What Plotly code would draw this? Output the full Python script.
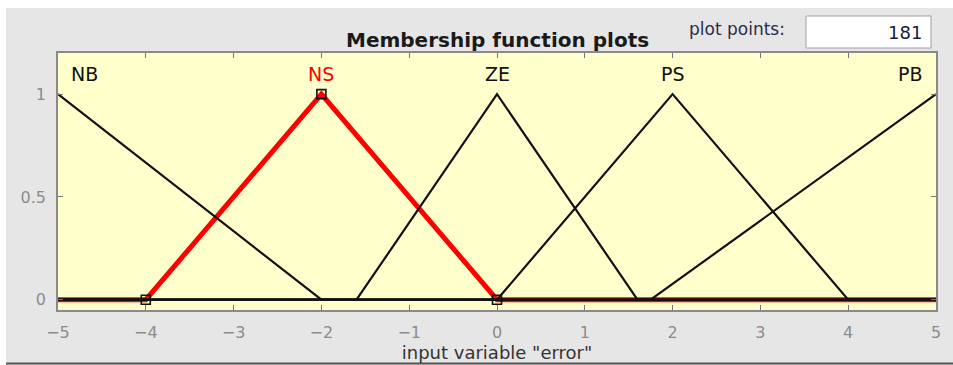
import plotly.graph_objects as go

# Membership function vertices (x, y)
mf_names = ["NB", "NS", "ZE", "PS", "PB"]
nb_x = [-5, -2, 5]
nb_y = [1, 0, 0]
ns_x = [-5, -4, -2, 0, 5]
ns_y = [0, 0, 1, 0, 0]
ze_x = [-5, -1.6, 0, 1.6, 5]
ze_y = [0, 0, 1, 0, 0]
ps_x = [-5, 0, 2, 4, 5]
ps_y = [0, 0, 1, 0, 0]
pb_x = [-5, 1.75, 5]
pb_y = [0, 0, 1]
ns_vert_x = [-4, -2, 0]
ns_vert_y = [0, 1, 0]
label_x = [-4.88, -2, 0, 2, 4.88]
label_y = [1.1, 1.1, 1.1, 1.1, 1.1]
x_ticks = [-5, -4, -3, -2, -1, 0, 1, 2, 3, 4, 5]
y_ticks = [0, 0.5, 1]
y_tick_text = ["0", "0.5", "1"]
plot_points = "181"

FONT = "DejaVu Sans, Liberation Sans, Arial"
W, H = 953, 365
L, R, T, B = 58, 17, 53, 55
pw, ph = W - L - R, H - T - B

def px(x):
    return (x - L) / pw

def py(y):
    return 1 - (y - T) / ph

fig = go.Figure()

# selected MF (red, thick) first
fig.add_trace(go.Scatter(x=ns_x, y=ns_y, mode="lines",
                         line=dict(color="#ff0000", width=5), hoverinfo="skip"))
for xs, ys in [(nb_x, nb_y), (ze_x, ze_y), (ps_x, ps_y), (pb_x, pb_y)]:
    fig.add_trace(go.Scatter(x=xs, y=ys, mode="lines",
                             line=dict(color="#111111", width=2.2), hoverinfo="skip"))
fig.add_trace(go.Scatter(x=ns_vert_x, y=ns_vert_y, mode="markers",
                         marker=dict(symbol="square-open", size=9, color="#111111",
                                     line=dict(width=1.6, color="#111111")),
                         hoverinfo="skip"))

# MF labels
for i, name in enumerate(mf_names):
    anchor = "center"
    if i == 0:
        anchor = "left"
    elif i == len(mf_names) - 1:
        anchor = "right"
    fig.add_annotation(x=label_x[i], y=label_y[i], text=name, showarrow=False,
                       xanchor=anchor, yanchor="middle",
                       font=dict(family=FONT, size=19,
                                 color="#ff0000" if name == "NS" else "#111111"))

# white outer strips
fig.add_shape(type="rect", xref="paper", yref="paper", x0=px(0), x1=px(W), y0=py(0), y1=py(8),
              fillcolor="white", line=dict(width=0), layer="above")
fig.add_shape(type="rect", xref="paper", yref="paper", x0=px(0), x1=px(6), y0=py(0), y1=py(H),
              fillcolor="white", line=dict(width=0), layer="above")
fig.add_shape(type="line", xref="paper", yref="paper", x0=px(6), x1=px(W), y0=py(363.5), y1=py(363.5),
              line=dict(color="#555555", width=2), layer="above")

# title
fig.add_annotation(xref="paper", yref="paper", x=px(497), y=py(40), text="<b>Membership function plots</b>",
                   showarrow=False, xanchor="center", yanchor="middle",
                   font=dict(family=FONT, size=20, color="#1a1a1a"))
# plot points label and box
fig.add_annotation(xref="paper", yref="paper", x=px(787), y=py(29), text="plot points:",
                   showarrow=False, xanchor="right", yanchor="middle",
                   font=dict(family=FONT, size=17, color="#2c2c48"))
fig.add_shape(type="rect", xref="paper", yref="paper", x0=px(806), x1=px(931), y0=py(16), y1=py(48),
              fillcolor="white", line=dict(color="#a0a0a0", width=1), layer="above")
fig.add_annotation(xref="paper", yref="paper", x=px(924), y=py(32), text=plot_points,
                   showarrow=False, xanchor="right", yanchor="middle",
                   font=dict(family=FONT, size=18, color="#1a1a3a"))

fig.update_layout(
    width=W, height=H,
    margin=dict(l=L, r=R, t=T, b=B, pad=0, autoexpand=False),
    paper_bgcolor="#e6e6e6",
    plot_bgcolor="#ffffcc",
    showlegend=False,
    xaxis=dict(range=[-5, 5], tickvals=x_ticks, ticks="inside", ticklen=5, tickcolor="#777777",
               showgrid=False, zeroline=False, showline=True, linecolor="#8a8a8a", linewidth=1.5,
               mirror="ticks", tickfont=dict(family=FONT, size=16, color="#8c8c8c"),
               ticklabelstandoff=7, automargin=False,
               title=dict(text='input variable "error"', standoff=5,
                          font=dict(family=FONT, size=18, color="#333333"))),
    yaxis=dict(range=[-0.05, 1.2], tickvals=y_ticks, ticktext=y_tick_text, ticks="inside", ticklen=5,
               tickcolor="#777777", showgrid=False, zeroline=False, showline=True, linecolor="#8a8a8a",
               linewidth=1.5, mirror="ticks", ticklabelstandoff=7, automargin=False,
               tickfont=dict(family=FONT, size=16, color="#8c8c8c")),
)

fig.write_html("out.html", post_script="document.body.style.margin='0px';",
               config={"displayModeBar": False})
